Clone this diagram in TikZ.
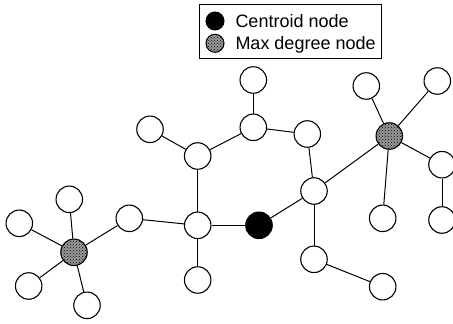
\documentclass[tikz,border=0pt]{standalone}
\usepackage{fontspec}
\setmainfont{Liberation Sans}
\usetikzlibrary{patterns}

\tikzset{
    vertex/.style={circle, draw, line width=1.1pt, fill=white,
                   minimum size=26.5pt, inner sep=0pt},
    centroid/.style={vertex, fill=black},
    hatched/.style={fill=black!40,
                    postaction={pattern=crosshatch dots, pattern color=black}},
    hub/.style={vertex, hatched},
    legenddot/.style={circle, draw, line width=1pt, minimum size=18pt, inner sep=0pt},
    legendtext/.style={anchor=base west, inner sep=0pt,
                       font=\fontsize{18}{20}\selectfont}
}

\begin{document}
\begin{tikzpicture}[x=1pt,y=-1pt,line width=1pt]

\useasboundingbox (0,0) rectangle (453,324);

% Legend
\node[draw, line width=1pt, minimum width=182.5pt, minimum height=54.5pt,
      inner sep=0pt] (legend) at (290.3,31.7) {};
\node[legenddot, fill=black] (keyc) at (215,21) {};
\node[legenddot, hatched] (keyh) at (215,43.3) {};
\node[legendtext] (keyctext) at (235,27.7) {Centroid node};
\node[legendtext] (keyhtext) at (235,49.4) {Max degree node};

% Vertices
\node[vertex] (top)    at (253.3,80)    {};
\node[vertex] (upper)  at (253.3,127.3) {};
\node[vertex] (leaf1)  at (150,129.3)   {};
\node[vertex] (ring)   at (307.3,134)   {};
\node[vertex] (mid)    at (197.7,156)   {};
\node[vertex] (rtop1)  at (366.3,86)    {};
\node[vertex] (rtop2)  at (437.3,81)    {};
\node[hub]    (hubr)   at (389.3,136)   {};
\node[vertex] (rside)  at (442,164.7)   {};
\node[vertex] (join)   at (314,191)     {};
\node[vertex] (rbot1)  at (382.7,218.3) {};
\node[vertex] (rbot2)  at (442,220)     {};
\node[vertex] (ltop)   at (69.3,199.3)  {};
\node[vertex] (lleft)  at (19.3,223.3)  {};
\node[vertex] (bridge) at (129.3,218.3) {};
\node[vertex] (cross)  at (197.7,225.3) {};
\node[centroid] (cent) at (259,225.3)   {};
\node[hub]    (hubl)   at (74,252.3)    {};
\node[vertex] (low)    at (314,259.3)   {};
\node[vertex] (lbot1)  at (28.7,286)    {};
\node[vertex] (leaf2)  at (197.7,280)   {};
\node[vertex] (tail)   at (382.7,286.7) {};
\node[vertex] (lbot2)  at (87,305.3)    {};

% Edges
\foreach \a/\b in {top/upper, upper/mid, upper/ring, leaf1/mid, mid/cross,
                   ring/join, join/hubr, join/cent, join/low, low/tail,
                   hubr/rtop1, hubr/rtop2, hubr/rside, hubr/rbot1, rside/rbot2,
                   cross/cent, cross/leaf2, cross/bridge, bridge/hubl,
                   hubl/ltop, hubl/lleft, hubl/lbot1, hubl/lbot2}{
    \draw (\a) -- (\b);
}

\end{tikzpicture}
\end{document}
